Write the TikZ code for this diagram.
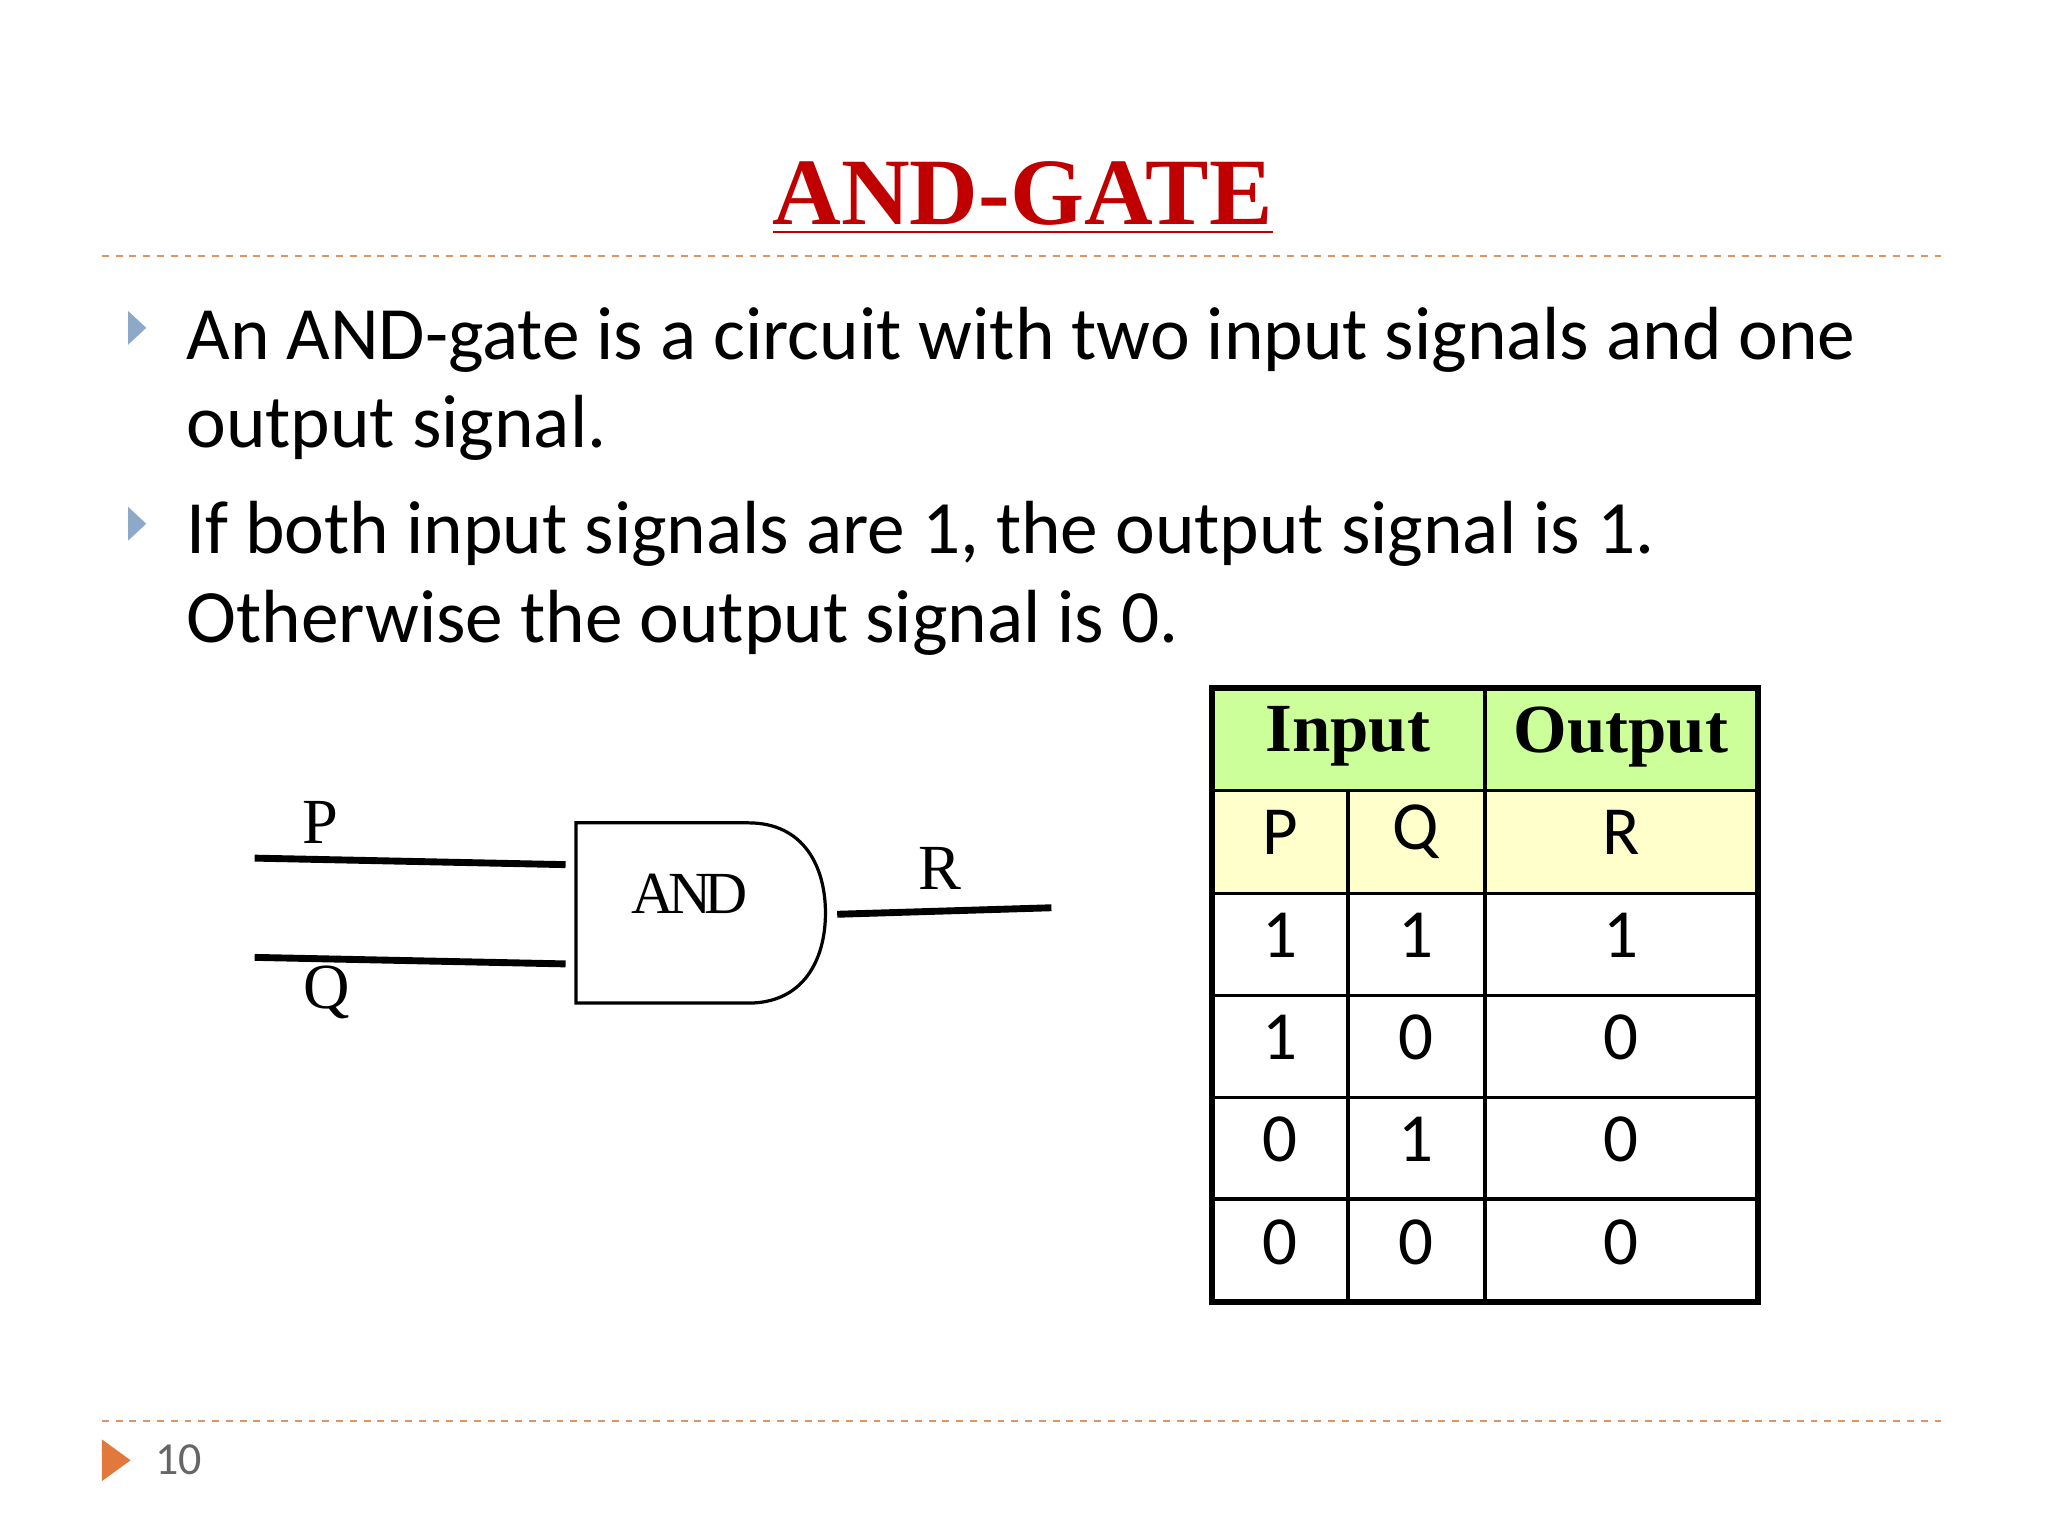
\documentclass[tikz,border=0pt]{standalone}
\usepackage{fontspec}
\setmainfont{Carlito}
\newfontfamily\serif{Liberation Serif}
\definecolor{dashc}{RGB}{220,150,100}
\definecolor{bulc}{RGB}{140,170,200}
\definecolor{pgc}{RGB}{225,120,60}
\definecolor{titc}{RGB}{192,0,0}
\definecolor{hgreen}{RGB}{204,255,153}
\definecolor{hyellow}{RGB}{255,255,204}
\begin{document}
\begin{tikzpicture}[x=0.01cm,y=-0.01cm,
 dashline/.style={draw=dashc,dash pattern=on 1.5pt off 1.5pt,line width=0.5pt},
 wire/.style={line width=1.5pt},
 body/.style={font=\fontsize{16.4}{20}\selectfont,anchor=base west,inner sep=0},
 cell/.style={font=\fontsize{15}{18}\selectfont},
 hcell/.style={font=\serif\bfseries\fontsize{15}{18}\selectfont},
 bul/.style={fill=bulc}]
\useasboundingbox (0,0) rectangle (1568,1176);
\node[text=titc,font=\serif\bfseries\fontsize{20.7}{24}\selectfont] (title) at (783,152) {\underline{AND-GATE}};
\draw[dashline] (78,196) -- (1490,196);
\draw[dashline] (78,1088) -- (1490,1088);
\fill[bul] (98,238) -- (112,251) -- (98,264) -- cycle;
\fill[bul] (98,388) -- (112,401) -- (98,414) -- cycle;
\node[body] (b1) at (142,275) {An AND-gate is a circuit with two input signals and one};
\node[body] (b1b) at (142,343) {output signal.};
\node[body] (b2) at (142,424) {If both input signals are 1, the output signal is 1.};
\node[body] (b2b) at (142,492) {Otherwise the output signal is 0.};
\fill[pgc] (78,1102) -- (100,1118) -- (78,1134) -- cycle;
\node[font=\fontsize{10}{12}\selectfont,text=black!60] (pg) at (137,1118) {10};
% gate
\coordinate (pa) at (195,657); \coordinate (pb) at (433,662);
\coordinate (qa) at (195,733); \coordinate (qb) at (433,738);
\coordinate (ra) at (641,700); \coordinate (rb) at (805,695);
\draw[wire] (pa) -- (pb);
\draw[wire] (qa) -- (qb);
\draw[wire] (ra) -- (rb);
\draw[line width=0.7pt] (573,630) -- (441,630) -- (441,768) -- (573,768)
  .. controls (615,768) and (632,735) .. (632,699) .. controls (632,663) and (615,630) .. (573,630);
\node[font=\serif\fontsize{13}{15}\selectfont] (and) at (528,684) {A\kern-1.5pt N\kern-1.5pt D};
\node[font=\serif\fontsize{14}{16}\selectfont] (P) at (245,630) {P};
\node[font=\serif\fontsize{14}{16}\selectfont] (Q) at (250,760) {Q};
\node[font=\serif\fontsize{14}{16}\selectfont] (R) at (720,665) {R};
% table
\fill[hgreen] (928,527) rectangle (1346,605);
\fill[hyellow] (928,605) rectangle (1346,684);
\foreach \y in {605,684,762,840,918} \draw[line width=0.7pt] (928,\y) -- (1346,\y);
\draw[line width=0.7pt] (1137,527) -- (1137,997);
\draw[line width=0.7pt] (1032,605) -- (1032,997);
\draw[line width=1.3pt] (928,527) rectangle (1346,997);
\node[hcell] (hi) at (1032,564) {Input};
\node[hcell] (ho) at (1241,564) {Output};
\node[cell] (cp) at (980,637) {P};
\node[cell] (cq) at (1084,637) {Q};
\node[cell] (cr) at (1241,637) {R};
\foreach \y/\a/\b/\c in {716/1/1/1,794/1/0/0,872/0/1/0,951/0/0/0}{
 \node[cell] at (980,\y) {\a};
 \node[cell] at (1084,\y) {\b};
 \node[cell] at (1241,\y) {\c};}
\end{tikzpicture}
\end{document}
